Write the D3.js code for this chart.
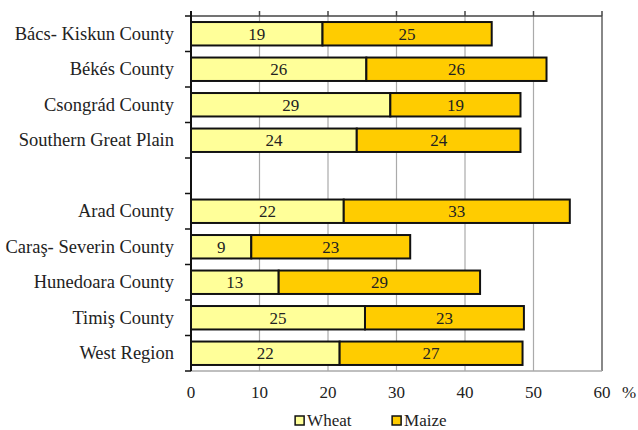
<!DOCTYPE html>
<html>
<head>
<meta charset="utf-8">
<script src="https://cdn.jsdelivr.net/npm/d3@7"></script>
<style>
  body { margin: 0; background: #fff; }
</style>
</head>
<body>
<div id="chart"></div>
<script>
// data (shares in %)
const regions = ["Bács- Kiskun County", "Békés County", "Csongrád County", "Southern Great Plain", "",
                 "Arad County", "Caraş- Severin County", "Hunedoara County", "Timiş County", "West Region"];
const wheat = [19.2, 25.6, 29.1, 24.2, null, 22.3, 8.8, 12.8, 25.4, 21.7];
const maize = [24.7, 26.3, 19.0, 23.9, null, 33.0, 23.2, 29.4, 23.2, 26.7];
const xTicks = [0, 10, 20, 30, 40, 50, 60];
const seriesNames = ["Wheat", "Maize"];
const colors = ["#FFFF99", "#FFCC00"];

const FONT = '"Liberation Serif"';

function label(sel, size) {
    return sel.style("font-family", FONT)
              .style("font-size", size + "px")
              .style("fill", "#222");
}

function init(){
    const W = 638, H = 430;
    const margin = { top: 16, right: 36, bottom: 59, left: 191 };
    const width = W - margin.left - margin.right;
    const height = H - margin.top - margin.bottom;

    const svg = d3.select("#chart")
                  .append("svg")
                  .attr("width", W)
                  .attr("height", H)
                  .style("font-family", FONT)
                  .append("g")
                  .attr("transform", `translate(${margin.left}, ${margin.top})`);

    const xScale = d3.scaleLinear().domain([0, 60]).range([0, width]);
    const yScale = d3.scaleBand().domain(d3.range(regions.length)).range([0, height]).paddingInner(0.34).paddingOuter(0.17);
    const band = d3.scaleBand().domain(d3.range(regions.length)).range([0, height]);

    // gridlines
    svg.append("g")
       .selectAll("line")
       .data(xTicks.slice(1))
       .enter()
       .append("line")
       .attr("x1", d => xScale(d)).attr("x2", d => xScale(d))
       .attr("y1", 0).attr("y2", height)
       .style("stroke", d => d === 60 ? "#888" : "#aaa")
       .style("stroke-width", d => d === 60 ? 2 : 1.2);

    // bottom frame line
    svg.append("line")
       .attr("x1", 0).attr("x2", xScale(60))
       .attr("y1", height).attr("y2", height)
       .style("stroke", "#aaa").style("stroke-width", 1.5);

    // top axis line with upward ticks
    const topAxis = svg.append("g");
    topAxis.append("line")
       .attr("x1", 0).attr("x2", xScale(60))
       .attr("y1", 0).attr("y2", 0)
       .style("stroke", "#444").style("stroke-width", 1.5);
    topAxis.selectAll(".tk")
       .data(xTicks)
       .enter()
       .append("line")
       .attr("x1", d => xScale(d)).attr("x2", d => xScale(d))
       .attr("y1", -5).attr("y2", 0)
       .style("stroke", "#444").style("stroke-width", 1.5);

    // x tick labels
    label(svg.append("g")
       .selectAll("text")
       .data(xTicks)
       .enter()
       .append("text")
       .attr("x", d => xScale(d))
       .attr("y", height + 27)
       .attr("text-anchor", "middle"), 17)
       .text(d => d);

    label(svg.append("text")
       .attr("x", xScale(60) + 27)
       .attr("y", height + 27)
       .attr("text-anchor", "middle"), 17)
       .text("%");

    // bars
    regions.forEach((r, i) => {
        if (wheat[i] == null) return;
        const segs = [
            { x0: 0, x1: wheat[i], v: wheat[i], c: colors[0] },
            { x0: wheat[i], x1: wheat[i] + maize[i], v: maize[i], c: colors[1] }
        ];
        const g = svg.append("g");
        g.selectAll("rect")
         .data(segs)
         .enter()
         .append("rect")
         .attr("x", d => xScale(d.x0))
         .attr("y", yScale(i))
         .attr("width", d => xScale(d.x1) - xScale(d.x0))
         .attr("height", yScale.bandwidth())
         .attr("fill", d => d.c)
         .style("stroke", "#111")
         .style("stroke-width", 2);
        label(g.selectAll("text")
         .data(segs)
         .enter()
         .append("text")
         .attr("x", d => xScale((d.x0 + d.x1) / 2))
         .attr("y", yScale(i) + yScale.bandwidth() / 2 + 6)
         .attr("text-anchor", "middle"), 17)
         .text(d => d3.format(".0f")(d.v));
    });

    // left axis with category ticks on band boundaries
    svg.append("line")
       .attr("x1", 0).attr("x2", 0)
       .attr("y1", -5).attr("y2", height)
       .style("stroke", "#111").style("stroke-width", 2);
    svg.append("g")
       .selectAll("line")
       .data(d3.range(regions.length + 1))
       .enter()
       .append("line")
       .attr("x1", -6).attr("x2", 0)
       .attr("y1", d => d < regions.length ? band(d) : height)
       .attr("y2", d => d < regions.length ? band(d) : height)
       .style("stroke", "#111").style("stroke-width", 1.5);

    label(svg.append("g")
       .selectAll("text")
       .data(regions)
       .enter()
       .append("text")
       .attr("x", -17)
       .attr("y", (d, i) => band(i) + band.bandwidth() / 2 + 6)
       .attr("text-anchor", "end"), 18.5)
       .text(d => d);

    // legend
    const legend = svg.append("g")
                      .attr("transform", `translate(${xScale(15.2)}, ${height + 45})`);
    seriesNames.forEach((name, i) => {
        const row = legend.append("g").attr("transform", `translate(${i * 97}, 0)`);
        row.append("rect")
           .attr("width", 9).attr("height", 9)
           .attr("fill", colors[i])
           .style("stroke", "#111").style("stroke-width", 1.5);
        label(row.append("text")
           .attr("x", 12).attr("y", 10), 17)
           .text(name);
    });
}
init();
</script>
</body>
</html>
